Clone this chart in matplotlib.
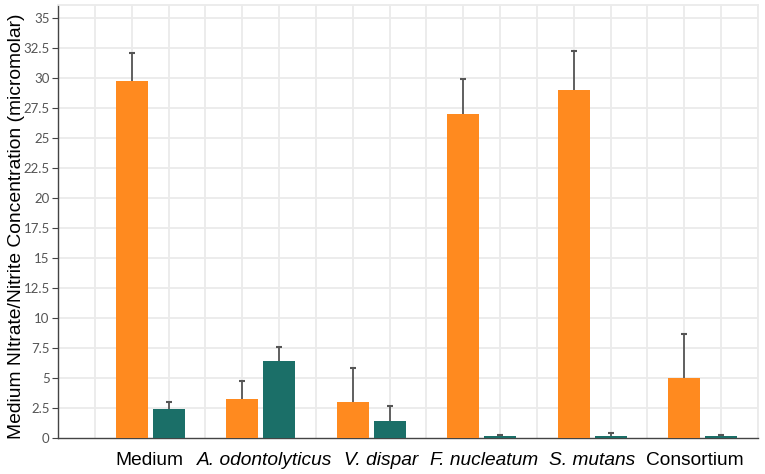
import matplotlib
matplotlib.use("Agg")
import matplotlib.pyplot as plt
import matplotlib.transforms as mtransforms
import numpy as np

groups = ["Medium", "A. odontolyticus", "V. dispar", "F. nucleatum", "S. mutans", "Consortium"]
italic = [False, True, True, True, True, False]
orange_vals = [29.8, 3.25, 2.98, 27.0, 29.0, 4.98]
orange_err = [2.3, 1.53, 2.83, 2.92, 3.25, 3.67]
teal_vals = [2.39, 6.45, 1.44, 0.19, 0.19, 0.15]
teal_err = [0.64, 1.16, 1.23, 0.06, 0.23, 0.13]
yticks = [0, 2.5, 5, 7.5, 10, 12.5, 15, 17.5, 20, 22.5, 25, 27.5, 30, 32.5, 35]

fig = plt.figure(figsize=(7.65, 4.74), dpi=100)
ax = fig.add_axes([58/765, 36/474, 700/765, 433/474])

pos = np.arange(len(groups)) * 3
ax.bar(pos + 1, orange_vals, width=0.87, color="#FF8A1F", zorder=3)
ax.bar(pos + 2, teal_vals, width=0.87, color="#1B6F68", zorder=3)

# upper error bars only, small caps
for xs, vals, errs in [(pos + 1, orange_vals, orange_err), (pos + 2, teal_vals, teal_err)]:
    tops = np.array(vals) + np.array(errs)
    ax.vlines(xs, vals, tops, color="#555555", lw=1.3, zorder=4)
    ax.plot(xs, tops, ls="none", marker="_", ms=5, mew=1.5, color="#555555", zorder=4)

ax.set_xlim(-1, 18)
ax.set_ylim(0, 36.1)
ax.set_xticks([])
# group labels, nudged a little by hand as in the original
nudge = [-1, 4, 10, 2, 0, -8]
for x, name, it, dx in zip(pos + 1.5, groups, italic, nudge):
    tr = ax.get_xaxis_transform() + mtransforms.ScaledTranslation(dx / 100, -27 / 100, fig.dpi_scale_trans)
    ax.text(x, 0, name, transform=tr, ha="center", va="baseline", fontsize=13.8,
            family="Liberation Sans", style="italic" if it else "normal")

ax.set_yticks(yticks)
ax.set_yticklabels([f"{v:g}" for v in yticks], fontsize=9.5, family="Lato", color="#555555")
ax.tick_params(axis="y", length=4, color="#444444", pad=2)

ax.grid(False)
for x in np.arange(-1, 19):
    ax.axvline(x, color="#EBEBEB", lw=1.3, zorder=1)
for y in yticks[1:]:
    ax.axhline(y, color="#EBEBEB", lw=1.3, zorder=1)

for s in ["top", "right"]:
    ax.spines[s].set_color("#EBEBEB")
    ax.spines[s].set_linewidth(1.3)
for s in ["left", "bottom"]:
    ax.spines[s].set_color("#444444")
    ax.spines[s].set_linewidth(1.0)

ax.set_ylabel("Medium NItrate/Nitrite Concentration (micromolar)", fontsize=13.9,
              family="Liberation Sans")
ax.yaxis.set_label_coords(-33/700, 0.49)

fig.savefig("out.png", dpi=100)
